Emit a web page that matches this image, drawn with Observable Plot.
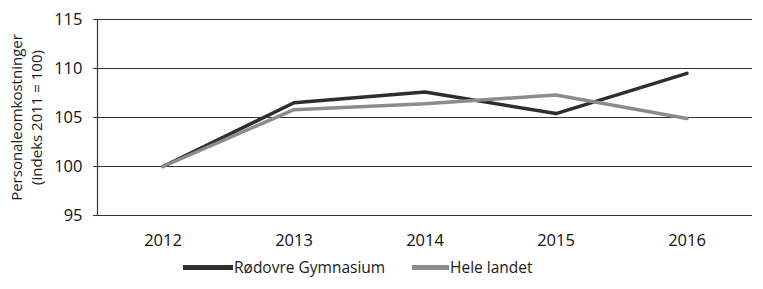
<!DOCTYPE html>
<html>
<head>
<meta charset="utf-8">
<script src="https://cdn.jsdelivr.net/npm/d3@7"></script>
<script src="https://cdn.jsdelivr.net/npm/@observablehq/plot@0.6"></script>
<style>
  html, body { margin: 0; padding: 0; background: #fff; }
  body { width: 763px; height: 289px; overflow: hidden; font-family: "Open Sans", sans-serif; }
  #legend { position: relative; height: 37px; font-size: 15.5px; color: #1a1a1a; }
  .item { position: absolute; top: 4px; display: flex; align-items: center; }
  .sw { display: inline-block; height: 5px; margin-right: 1px; }
</style>
</head>
<body>
<div id="chart"></div>
<div id="legend">
  <div class="item" style="left:183px"><span class="sw" style="width:50px;background:#2e2e2e"></span>Rødovre Gymnasium</div>
  <div class="item" style="left:412px"><span class="sw" style="width:37px;background:#8c8c8c"></span>Hele landet</div>
</div>
<script>
const years = ["2012", "2013", "2014", "2015", "2016"];
const rodovre = [100, 106.5, 107.6, 105.4, 109.5];
const heleLandet = [100, 105.8, 106.4, 107.3, 104.9];
const yTicks = [95, 100, 105, 110, 115];
const seriesNames = ["Rødovre Gymnasium", "Hele landet"];
const seriesColors = ["#2e2e2e", "#8c8c8c"];

const data = [
  ...years.map((y, i) => ({year: y, value: rodovre[i], series: seriesNames[0]})),
  ...years.map((y, i) => ({year: y, value: heleLandet[i], series: seriesNames[1]}))
];

const chart = Plot.plot({
  width: 763,
  height: 252,
  marginLeft: 97,
  marginRight: 11,
  marginTop: 19,
  marginBottom: 37,
  style: {fontFamily: "Open Sans, sans-serif", fontSize: "15px", color: "#1a1a1a", background: "#fff"},
  x: {type: "band", domain: years, label: null, padding: 0},
  y: {domain: [95, 115], label: null},
  color: {domain: seriesNames, range: seriesColors},
  marks: [
    Plot.ruleY(yTicks, {stroke: "#333", strokeWidth: 1.2}),
    Plot.ruleX([years[0]], {y1: 95, y2: 115, stroke: "#333", strokeWidth: 1.2, dx: -65.5}),
    Plot.axisY({ticks: yTicks, tickSize: 4, tickPadding: 11, stroke: "#333", fontSize: 16.5, fill: "#111"}),
    Plot.axisX({tickSize: 0, tickPadding: 19, fontSize: 16.5, fill: "#111"}),
    Plot.line(data, {x: "year", y: "value", z: "series", stroke: "series", strokeWidth: 3.5, strokeLinejoin: "miter"}),
    Plot.text(["Personaleomkostninger\n(indeks 2011 = 100)"], {frameAnchor: "left", textAnchor: "middle", dx: -72, rotate: -90, fontSize: 15, lineHeight: 1.3, fill: "#1a1a1a"})
  ]
});
document.getElementById("chart").appendChild(chart);
</script>
</body>
</html>
